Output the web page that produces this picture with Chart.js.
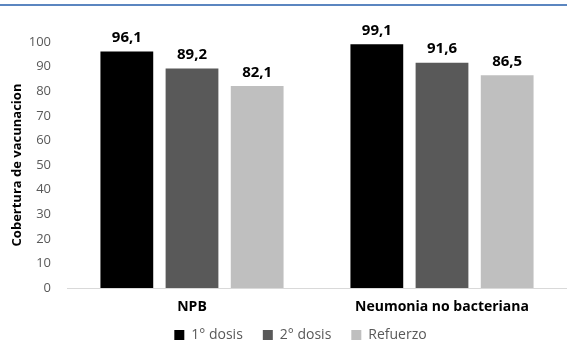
<!DOCTYPE html>
<html>
<head>
<meta charset="utf-8">
<script src="https://cdn.jsdelivr.net/npm/chart.js@4"></script>
<style>
  html, body { margin: 0; padding: 0; background: #fff; }
  #wrap { width: 567px; height: 347px; position: relative; }
</style>
</head>
<body>
<div id="wrap"><canvas id="cobertura"></canvas></div>
<script>
const categories = ['NPB', 'Neumonia no bacteriana'];
const dosis1 = [96.1, 99.1];
const dosis2 = [89.2, 91.6];
const refuerzo = [82.1, 86.5];
const seriesNames = ['1° dosis', '2° dosis', 'Refuerzo'];
const yTicks = [0, 10, 20, 30, 40, 50, 60, 70, 80, 90, 100];

Chart.defaults.font.family = '"Open Sans", sans-serif';
Chart.defaults.color = '#595959';

// blue rule across the top of the frame
const topRule = {
  id: 'topRule',
  beforeDraw(chart) {
    const ctx = chart.ctx;
    ctx.save();
    ctx.strokeStyle = '#5b86c0';
    ctx.lineWidth = 2;
    ctx.beginPath();
    ctx.moveTo(0, 5);
    ctx.lineTo(chart.width, 5);
    ctx.stroke();
    ctx.restore();
  }
};

// legend sits a little right of centre and tucked up under the labels
const legendShift = {
  id: 'legendShift',
  afterLayout(chart) {
    const lg = chart.legend;
    if (lg) {
      lg.left += 15;
      lg.right += 15;
      lg.top -= 16;
      lg.bottom -= 16;
    }
  }
};

// value labels above bars, comma decimal
const valueLabels = {
  id: 'valueLabels',
  afterDatasetsDraw(chart) {
    const ctx = chart.ctx;
    ctx.save();
    ctx.font = 'bold 15px "Open Sans", sans-serif';
    ctx.fillStyle = '#000';
    ctx.textAlign = 'center';
    ctx.textBaseline = 'bottom';
    chart.data.datasets.forEach((ds, i) => {
      chart.getDatasetMeta(i).data.forEach((bar, j) => {
        ctx.fillText(ds.data[j].toFixed(1).replace('.', ','), bar.x, bar.y - 6);
      });
    });
    ctx.restore();
  }
};

const data = {
  labels: categories,
  datasets: [
    { label: seriesNames[0], data: dosis1, backgroundColor: '#000000' },
    { label: seriesNames[1], data: dosis2, backgroundColor: '#595959' },
    { label: seriesNames[2], data: refuerzo, backgroundColor: '#bfbfbf' }
  ]
};

const config = {
  type: 'bar',
  data: data,
  options: {
    responsive: true,
    maintainAspectRatio: false,
    animation: false,
    categoryPercentage: 0.782,
    barPercentage: 0.81,
    layout: { padding: { top: 42, left: 0, right: -4, bottom: -21 } },
    plugins: {
      legend: {
        position: 'bottom',
        labels: {
          boxWidth: 10,
          boxHeight: 10,
          padding: 20,
          font: { size: 14 },
          color: '#595959'
        }
      },
      tooltip: { enabled: false }
    },
    scales: {
      x: {
        grid: { display: false, drawTicks: false },
        border: { color: '#d9d9d9', width: 1 },
        afterFit(scale) {
          scale.height = 36;
        },
        ticks: {
          padding: 11,
          color: '#000',
          font: { size: 14, weight: 'bold' }
        }
      },
      y: {
        min: 0,
        max: 100,
        afterBuildTicks(axis) {
          axis.ticks = yTicks.map(v => ({ value: v }));
        },
        afterFit(scale) {
          scale.width = 67;
        },
        grid: { display: false, drawTicks: false },
        border: { display: false },
        ticks: {
          padding: 16,
          color: '#595959',
          font: { size: 13 }
        },
        title: {
          display: true,
          text: 'Cobertura de vacunacion',
          color: '#000',
          font: { size: 13, weight: 'bold' },
          padding: { top: 9, bottom: 0 }
        }
      }
    }
  },
  plugins: [topRule, legendShift, valueLabels]
};

const coberturaChart = new Chart(document.getElementById('cobertura'), config);
</script>
</body>
</html>
